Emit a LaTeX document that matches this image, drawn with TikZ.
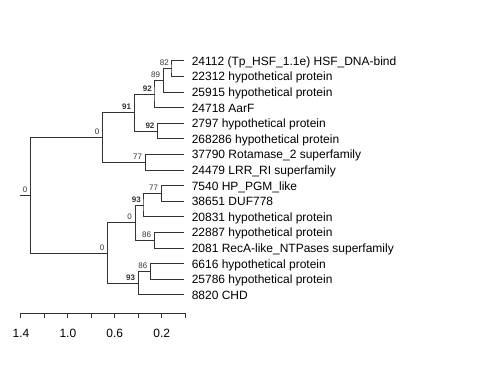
\documentclass[tikz,border=0pt]{standalone}
\usepackage{fontspec}
\setmainfont{Liberation Sans}
\usepackage{tikz}
\usetikzlibrary{calc}
\definecolor{trgrey}{HTML}{333333}

\begin{document}
\begin{tikzpicture}[x=0.75pt,y=-0.75pt,
  branch/.style={draw=trgrey,line width=0.75pt},
  leaf/.style={anchor=base west,inner sep=0pt,font=\fontsize{9}{10}\selectfont},
  boot/.style={anchor=base east,inner sep=0pt,font=\fontsize{6}{7}\selectfont,text=trgrey},
  bootb/.style={boot,font=\fontsize{6}{7}\selectfont\bfseries},
  axlab/.style={anchor=base,inner sep=0pt,font=\fontsize{9}{10}\selectfont}]
  \useasboundingbox (0,0) rectangle (480,384);
  % leaves, top to bottom
  \foreach \i/\t in {1/{24112 (Tp\_HSF\_1.1e) HSF\_DNA-bind},2/22312 hypothetical protein,
    3/25915 hypothetical protein,4/24718 AarF,5/2797 hypothetical protein,
    6/268286 hypothetical protein,7/37790 Rotamase\_2 superfamily,8/24479 LRR\_RI superfamily,
    9/7540 HP\_PGM\_like,10/38651 DUF778,11/20831 hypothetical protein,
    12/22887 hypothetical protein,13/2081 RecA-like\_NTPases superfamily,
    14/6616 hypothetical protein,15/25786 hypothetical protein,16/8820 CHD}{
    \coordinate (l\i) at (184.5,{61+15.6*(\i-1)});
    \node[leaf] (t\i) at ($(l\i)+(7,4.4)$) {\t};
  }
  % internal nodes
  \coordinate (E) at (172,68.8);
  \coordinate (D) at (163.3,80.5);
  \coordinate (C) at (155,94.15);
  \coordinate (F) at (157.7,131.2);
  \coordinate (B) at (134.3,112.7);
  \coordinate (G) at (145.3,162.4);
  \coordinate (A) at (102.5,137.5);
  \coordinate (L) at (161.3,193.6);
  \coordinate (J) at (144,205.3);
  \coordinate (K) at (154.3,240.4);
  \coordinate (I) at (135.2,222.85);
  \coordinate (N) at (150.5,271.6);
  \coordinate (M) at (138.3,283.3);
  \coordinate (H) at (107.7,253.1);
  \coordinate (R) at (30.5,195.3);
  \coordinate (r0) at (20,195.3);
  % branches
  \draw[branch] (l1) -| (E) |- (l2);
  \draw[branch] (E) -| (D) |- (l3);
  \draw[branch] (D) -| (C) |- (l4);
  \draw[branch] (l5) -| (F) |- (l6);
  \draw[branch] (C) -| (B) |- (F);
  \draw[branch] (l7) -| (G) |- (l8);
  \draw[branch] (B) -| (A) |- (G);
  \draw[branch] (l9) -| (L) |- (l10);
  \draw[branch] (L) -| (J) |- (l11);
  \draw[branch] (l12) -| (K) |- (l13);
  \draw[branch] (J) -| (I) |- (K);
  \draw[branch] (l14) -| (N) |- (l15);
  \draw[branch] (N) -| (M) |- (l16);
  \draw[branch] (I) -| (H) |- (M);
  \draw[branch] (A) -| (R) |- (H);
  \draw[branch] (r0) -- (R);
  % support values
  \foreach \n/\v in {E/82,D/89,A/0,G/77,L/77,K/86,I/0,N/86,H/0,R/0}{
    \node[boot] (b\n) at ($(\n)+(-3,-3)$) {\v};}
  \foreach \n/\v in {C/92,B/91,F/92,J/93,M/93}{
    \node[bootb] (b\n) at ($(\n)+(-3,-3)$) {\v};}
  % scale axis
  \draw[branch] (21,313.3) -- (185.3,313.3);
  \foreach \k in {0,...,7}{ \draw[branch] ({21+23.47*\k},313.3) -- ({21+23.47*\k},318);}
  \foreach \x/\t in {21/1.4,67.9/1.0,114.8/0.6,161.8/0.2}{ \node[axlab] at (\x,337.6) {\t};}
\end{tikzpicture}
\end{document}
